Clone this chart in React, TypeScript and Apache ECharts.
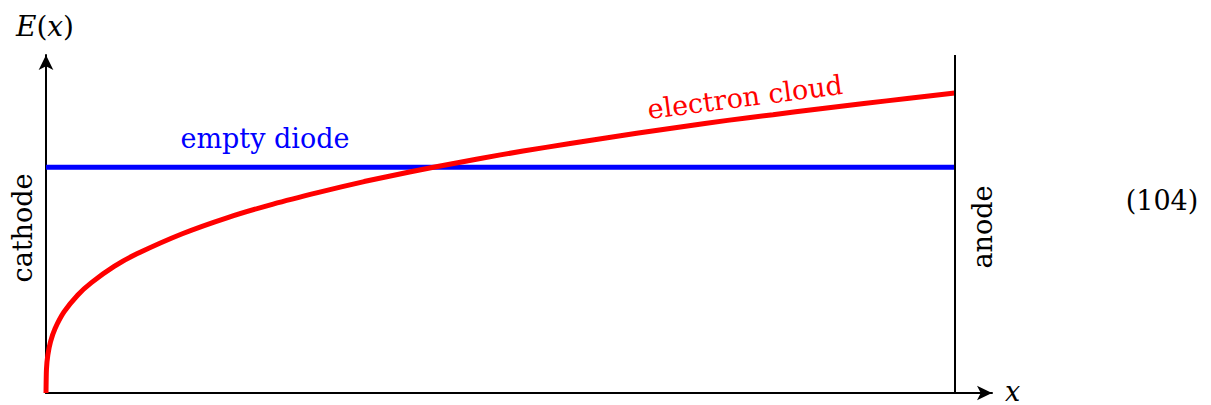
import React, { useEffect, useRef } from "react";
import * as echarts from "echarts";

// Electron cloud field profile E(x) (x normalised 0..1, E normalised to anode value)
const cloudX = [0, 0.0005, 0.002, 0.005, 0.01, 0.02, 0.035, 0.05, 0.075, 0.1, 0.15, 0.2, 0.25, 0.3, 0.35, 0.4, 0.45, 0.5, 0.55, 0.6, 0.65, 0.7, 0.75, 0.8, 0.85, 0.9, 0.95, 1.0];
const cloudE = [0, 0.079, 0.126, 0.171, 0.215, 0.271, 0.327, 0.368, 0.422, 0.464, 0.531, 0.585, 0.63, 0.669, 0.705, 0.737, 0.766, 0.794, 0.819, 0.843, 0.866, 0.888, 0.909, 0.928, 0.947, 0.965, 0.983, 1.0];
// Empty diode: constant field
const emptyX = [0, 1];
const emptyE = [0.753, 0.753];
const anodeX = 1;

const labels = {
  xName: "x",
  empty: "empty diode",
  cloud: "electron cloud",
  cathode: "cathode",
  anode: "anode",
  eq: "(104)",
};

const FONT = "DejaVu Serif";

export default function App() {
  const ref = useRef<HTMLDivElement>(null);
  useEffect(() => {
    if (!ref.current) return;
    const chart = echarts.init(ref.current, null, { renderer: "svg" });
    const axisLine = {
      show: true,
      symbol: ["none", "arrow"],
      symbolSize: [11, 15],
      lineStyle: { color: "#000", width: 2 },
    };
    chart.setOption({
      animation: false,
      backgroundColor: "#fff",
      grid: { left: 46, right: 219, top: 55, bottom: 12 },
      xAxis: {
        type: "value",
        min: 0,
        max: 1.041,
        axisLine,
        axisTick: { show: false },
        axisLabel: { show: false },
        splitLine: { show: false },
      },
      yAxis: {
        type: "value",
        min: 0,
        max: 1.127,
        axisLine,
        axisTick: { show: false },
        axisLabel: { show: false },
        splitLine: { show: false },
      },
      series: [
        {
          type: "line",
          data: emptyX.map((x, i) => [x, emptyE[i]]),
          symbol: "none",
          lineStyle: { color: "#0000ff", width: 5 },
          markLine: {
            silent: true,
            symbol: "none",
            label: { show: false },
            lineStyle: { color: "#000", width: 2, type: "solid" },
            data: [{ xAxis: anodeX }],
          },
        },
        {
          type: "line",
          data: cloudX.map((x, i) => [x, cloudE[i]]),
          symbol: "none",
          smooth: 0.2,
          lineStyle: { color: "#ff0000", width: 5 },
        },
      ],
      graphic: [
        {
          type: "text",
          x: 45,
          y: 26,
          style: {
            text: "{i|E}{n|(}{i|x}{n|)}",
            align: "center",
            verticalAlign: "middle",
            rich: {
              i: { font: `italic 28px '${FONT}'`, fill: "#000" },
              n: { font: `28px '${FONT}'`, fill: "#000" },
            },
          },
        },
        { type: "text", x: 1005, y: 391, style: { text: labels.xName, font: `italic 27px '${FONT}'`, fill: "#000", verticalAlign: "middle" } },
        { type: "text", x: 265, y: 138, style: { text: labels.empty, font: `27px '${FONT}'`, fill: "#0000ff", align: "center", verticalAlign: "middle" } },
        { type: "text", x: 745, y: 97, rotation: (7.4 * Math.PI) / 180, style: { text: labels.cloud, font: `27px '${FONT}'`, fill: "#ff0000", align: "center", verticalAlign: "middle" } },
        { type: "text", x: 22, y: 228, rotation: Math.PI / 2, style: { text: labels.cathode, font: `27px '${FONT}'`, fill: "#000", align: "center", verticalAlign: "middle" } },
        { type: "text", x: 982, y: 227, rotation: Math.PI / 2, style: { text: labels.anode, font: `27px '${FONT}'`, fill: "#000", align: "center", verticalAlign: "middle" } },
        { type: "text", x: 1162, y: 200, style: { text: labels.eq, font: `27px '${FONT}'`, fill: "#000", align: "center", verticalAlign: "middle" } },
      ],
    });
    return () => chart.dispose();
  }, []);
  return (
    <div
      ref={ref}
      style={{ position: "fixed", left: 0, top: 0, width: 1211, height: 405, background: "#fff" }}
    />
  );
}
